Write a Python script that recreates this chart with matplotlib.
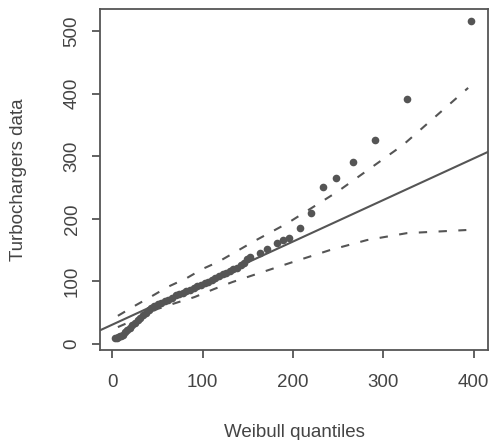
import matplotlib
matplotlib.use("Agg")
import matplotlib.pyplot as plt
import numpy as np

plt.rcParams['font.family'] = ['Liberation Sans', 'DejaVu Sans']

# Weibull theoretical quantiles (x) and sorted turbocharger data (y)
weibull_q = [3, 5, 6, 8, 10, 12, 14, 16, 19, 22, 25, 28, 31, 34, 37, 40, 43, 46, 50, 54,
             58, 62, 66, 70, 74, 78, 82, 86, 90, 94, 98, 102, 106, 110, 114, 118, 122, 126,
             130, 134, 138, 142, 146, 149, 152, 163, 171, 182, 189, 196, 208, 220, 233, 248,
             266, 291, 326, 397]
turbo_data = [10, 10, 11, 12, 13, 15, 19, 22, 26, 30, 34, 38, 42, 46, 50, 54, 57, 60, 64, 66,
              68, 71, 74, 78, 80, 82, 84, 87, 89, 92, 95, 97, 99, 102, 105, 108, 111, 113,
              116, 119, 122, 126, 130, 135, 139, 145, 152, 161, 166, 169, 185, 209, 251, 265,
              291, 326, 391, 516]

# fitted reference line (intercept, slope)
line_intercept = 31
line_slope = 0.663

# confidence envelope
upper_x = [6, 26, 42, 61, 82, 100, 117, 158, 194, 249, 322, 394]
upper_y = [45, 62, 75, 91, 105, 120, 131, 165, 193, 243, 318, 409]
lower_x = [6, 30, 50, 69, 91, 113, 133, 156, 200, 241, 282, 326, 392]
lower_y = [27, 42, 56, 65, 75, 88, 99, 110, 131, 150, 166, 177, 182]

x_ticks = [0, 100, 200, 300, 400]
y_ticks = [0, 100, 200, 300, 400, 500]

W, H = 491, 440
fig = plt.figure(figsize=(W / 100, H / 100), dpi=100)
ax = fig.add_axes([100 / W, (H - 350) / H, 388 / W, 341 / H])

col = '#555555'
ax.set_xlim(-13.8, 416)
ax.set_ylim(-9.6, 535)

xl = np.array(ax.get_xlim())
ax.plot(xl, line_intercept + line_slope * xl, color=col, lw=1.5)
ax.plot(upper_x, upper_y, color=col, lw=1.5, linestyle=(0, (4, 5.5)))
ax.plot(lower_x, lower_y, color=col, lw=1.5, linestyle=(0, (4, 5.5)))
ax.plot(weibull_q, turbo_data, 'o', color=col, markersize=5.5, markeredgewidth=0)

ax.set_xticks(x_ticks)
ax.set_yticks(y_ticks)
ax.tick_params(axis='both', direction='out', length=6, width=1.3, color=col,
               labelsize=13.5, labelcolor='#444444')
ax.tick_params(axis='x', pad=11)
ax.tick_params(axis='y', pad=8)
for lab in ax.get_yticklabels():
    lab.set_rotation(90)
    lab.set_va('center')
for s in ax.spines.values():
    s.set_color(col)
    s.set_linewidth(1.3)

ax.set_xlabel('Weibull quantiles', fontsize=13.5, color='#444444')
ax.set_ylabel('Turbochargers data', fontsize=13.5, color='#444444')
ax.xaxis.set_label_coords(0.5, -0.243)
ax.yaxis.set_label_coords(-0.209, 0.5)
ax.xaxis.label.set_va('center')
ax.yaxis.label.set_va('center')

fig.savefig('out.png', dpi=100)
